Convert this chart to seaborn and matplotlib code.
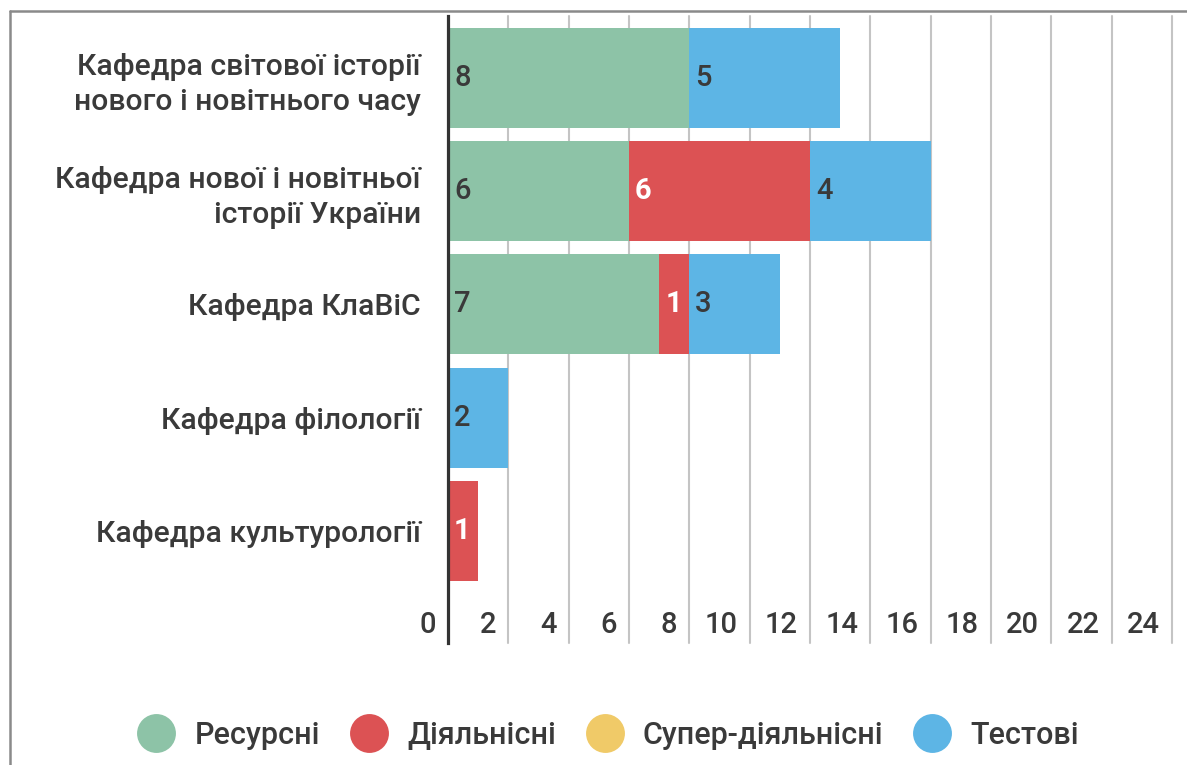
import numpy as np
import pandas as pd
import matplotlib
matplotlib.use("Agg")
import matplotlib.pyplot as plt
import seaborn as sns
from matplotlib.lines import Line2D

categories = [
    "Кафедра світової історії\nнового і новітнього часу",
    "Кафедра нової і новітньої\nісторії України",
    "Кафедра КлаВіС",
    "Кафедра філології",
    "Кафедра культурології",
]
series_names = ["Ресурсні", "Діяльнісні", "Супер-діяльнісні", "Тестові"]
resursni = [8, 6, 7, 0, 0]
diialnisni = [0, 6, 1, 0, 1]
super_diialnisni = [0, 0, 0, 0, 0]
testovi = [5, 4, 3, 2, 0]
x_ticks = list(range(0, 25, 2))

colors = ["#8dc3a7", "#dc5254", "#f0ca68", "#5db5e5"]
text_color = "#3a3a3a"

sns.set_theme(style="white")
plt.rcParams["font.family"] = ["Roboto", "DejaVu Sans"]

W, H = 1187, 765
FS = 21
fig = plt.figure(figsize=(W / 100, H / 100), dpi=100)
ax = fig.add_axes([448 / W, 1 - 643 / H, 724 / W, 627 / H])

series = [resursni, diialnisni, super_diialnisni, testovi]
cum = np.cumsum(np.array(series, dtype=float), axis=0)
starts = np.vstack([np.zeros(len(categories)), cum[:-1]])

df = pd.DataFrame({"category": categories})
for i in reversed(range(4)):
    df["v"] = cum[i]
    sns.barplot(data=df, x="v", y="category", orient="h", color=colors[i],
                saturation=1, width=0.883, errorbar=None, linewidth=0,
                edgecolor="none", ax=ax, zorder=2)

for i in range(4):
    for j, val in enumerate(series[i]):
        if val > 0:
            is_red = (i == 1)
            ax.annotate(str(val), xy=(starts[i][j], j), xytext=(6, 0),
                        textcoords="offset pixels", ha="left", va="center",
                        fontsize=FS, color="white" if is_red else text_color,
                        fontweight="bold" if is_red else "medium", zorder=5)

ax.set_xlim(0, 24)
ax.set_ylim(4.989, -0.547)
ax.set_xlabel("")
ax.set_ylabel("")
ax.set_xticks([])
ax.set_yticks(range(len(categories)))
ax.set_yticklabels(categories, fontsize=21.7, color=text_color, linespacing=1.3,
                   fontweight="medium")
ax.tick_params(axis="y", length=0, pad=19.5)

for s in ["top", "right", "bottom"]:
    ax.spines[s].set_visible(False)
ax.spines["left"].set_color("#333333")
ax.spines["left"].set_linewidth(2.3)
ax.spines["left"].set_zorder(6)

for t in x_ticks[1:]:
    ax.axvline(t, color="#c4c4c4", lw=1.5, zorder=0, clip_on=False)

tr = matplotlib.transforms.blended_transform_factory(ax.transData, ax.transAxes)
for t in x_ticks:
    ax.annotate(str(t), xy=(t, (643 - 625) / 627), xycoords=tr, xytext=(-12, 0),
                textcoords="offset pixels", ha="right", va="center",
                fontsize=FS, color=text_color, fontweight="medium")

handles = [Line2D([0], [0], marker="o", linestyle="none", markersize=28,
                  markerfacecolor=c, markeredgecolor="none") for c in colors]
leg = fig.legend(handles, series_names, loc="center", bbox_to_anchor=(607 / W, 1 - 735 / H),
                 ncol=4, frameon=False, prop={"size": 22, "weight": "medium"},
                 handletextpad=0.55, columnspacing=0.9, handlelength=1.4,
                 labelcolor=text_color)

# outer frame
fig.add_artist(Line2D([10 / W, 10 / W], [0, 1 - 11 / H], color="#8a8a8a", lw=1.8,
                      transform=fig.transFigure))
fig.add_artist(Line2D([10 / W, 1], [1 - 11 / H, 1 - 11 / H], color="#8a8a8a", lw=1.8,
                      transform=fig.transFigure))

fig.savefig("out.png", dpi=100, facecolor="white")
